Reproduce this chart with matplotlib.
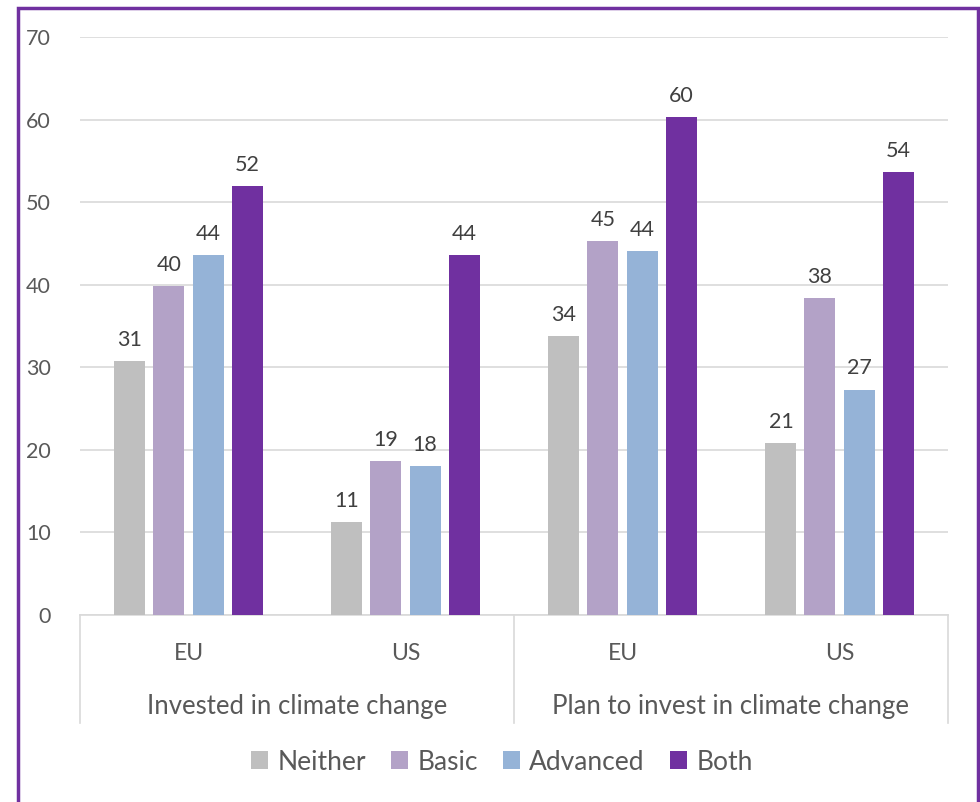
import matplotlib.pyplot as plt
import matplotlib.transforms as mtransforms
from matplotlib.patches import Rectangle
import numpy as np

plt.rcParams['font.family'] = ['Lato', 'DejaVu Sans']

regions = ["EU", "US", "EU", "US"]
groups = ["Invested in climate change", "Plan to invest in climate change"]
series = ["Neither", "Basic", "Advanced", "Both"]
neither = [30.8, 11.3, 33.8, 20.8]
basic = [39.8, 18.6, 45.3, 38.4]
advanced = [43.6, 18.0, 44.1, 27.3]
both = [52.0, 43.6, 60.3, 53.6]
colors = ["#BFBFBF", "#B3A2C7", "#95B3D7", "#7030A0"]

text_col = "#595959"
grid_col = "#D9D9D9"

fig = plt.figure(figsize=(9.8, 8.02), dpi=100)
ax = fig.add_axes([80/980, 1 - 615/802, 868/980, 578/802])

x = np.arange(len(regions))
slot = 0.18
width = 0.143
for i, (name, vals) in enumerate(zip(series, [neither, basic, advanced, both])):
    pos = x + (i - 1.5) * slot
    bars = ax.bar(pos, vals, width, color=colors[i], label=name, zorder=3)
    for b, v in zip(bars, vals):
        ax.annotate(f"{round(v):d}", (b.get_x() + b.get_width()/2, v),
                    xytext=(0, 8), textcoords="offset points",
                    ha="center", va="bottom", fontsize=15.5, color="#404040")

ax.set_xlim(-0.5, 3.5)
ax.set_ylim(0, 70)
ax.set_yticks(range(0, 71, 10))
ax.tick_params(axis="y", length=0, labelsize=15.5, labelcolor=text_col, pad=21)
ax.set_xticks([])
ax.yaxis.grid(True, color=grid_col, linewidth=1.2, zorder=0)
for s in ["top", "right", "left"]:
    ax.spines[s].set_visible(False)
ax.spines["bottom"].set_color(grid_col)
ax.spines["bottom"].set_linewidth(1.2)

trans = mtransforms.blended_transform_factory(ax.transData, ax.transAxes)
for sx in [-0.5, 1.5, 3.5]:
    ax.plot([sx, sx], [0, -0.187], transform=trans, color=grid_col,
            linewidth=1.2, clip_on=False)
for xi, r in zip(x, regions):
    ax.text(xi, -0.066, r, transform=trans, ha="center", va="center",
            fontsize=16.5, color=text_col)
for gi, g in enumerate(groups):
    ax.text(gi*2 + 0.5, -0.158, g, transform=trans, ha="center", va="center",
            fontsize=18.5, color=text_col)

leg = fig.legend(loc="center", bbox_to_anchor=(0.512, 1 - 762/802), ncol=4,
                 frameon=False, fontsize=19, handlelength=0.65, handleheight=0.65,
                 handletextpad=0.35, columnspacing=0.95)
for t in leg.get_texts():
    t.set_color(text_col)

fig.patches.append(Rectangle((17.5/980, -0.02), 960/980, 1.02 - 7.5/802,
                             transform=fig.transFigure, fill=False,
                             edgecolor="#7030A0", linewidth=2.5))

fig.savefig("out.png", dpi=100)
